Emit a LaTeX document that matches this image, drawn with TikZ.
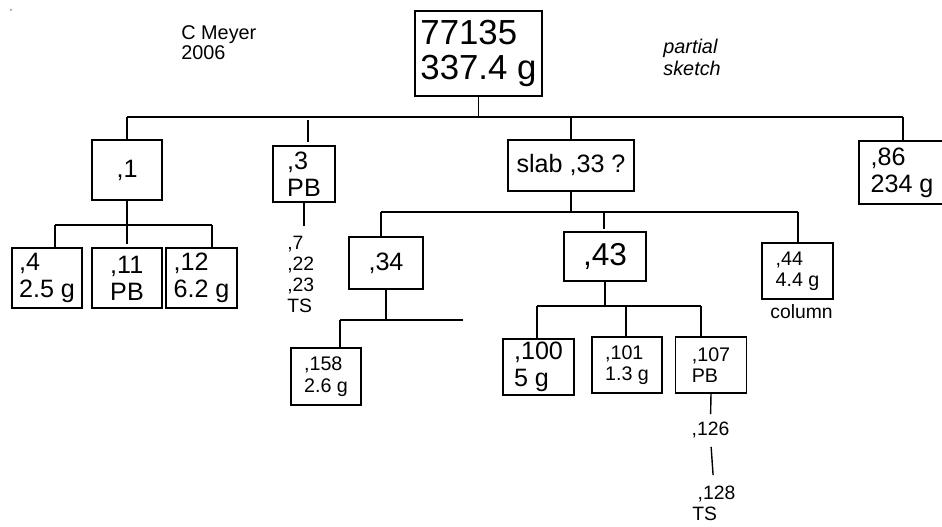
\documentclass[tikz,border=0pt]{standalone}
\usepackage{fontspec}
\setmainfont{Liberation Sans}
\usetikzlibrary{positioning}

\begin{document}
\begin{tikzpicture}[
  item/.style={rectangle, draw, line width=0.8pt, align=left, inner sep=0pt,
               font=\fontsize{14.3}{15.5}\selectfont},
  smallitem/.style={item, font=\fontsize{11.2}{12.2}\selectfont},
  note/.style={align=left, inner sep=0pt, font=\fontsize{11}{11.9}\selectfont},
  branch/.style={line width=0.8pt}
]
\useasboundingbox (0,0) rectangle (18.84,-10.54);

\node[circle, fill=gray, inner sep=0pt, minimum size=0.04cm] (speck) at (0.22,-0.2) {};
\node[note, anchor=north west, font=\fontsize{11.3}{11.6}\selectfont] (meyer) at (3.62,-0.5) {C Meyer\\2006};
\node[note, anchor=north west, font=\fontsize{11.3}{12.5}\selectfont\itshape] (partial) at (13.26,-0.77) {partial\\sketch};

\node[item, font=\fontsize{19.8}{20.4}\selectfont, minimum width=2.54cm, minimum height=1.7cm] (root) at (9.57,-1.07) {77135\\337.4 g};

\node[item, minimum width=1.4cm, minimum height=1.2cm]   (n1)   at (2.54,-3.4)  {,1};
\node[item, minimum width=1.24cm, minimum height=1.12cm] (n3)   at (6.08,-3.48) {,3\\PB};
\node[item, minimum width=2.52cm, minimum height=1.02cm] (slab) at (11.42,-3.31) {slab ,33 ?};
\node[item, minimum width=1.72cm, minimum height=1.26cm] (n86)  at (18.04,-3.45) {,86\\234 g};

\node[item, minimum width=1.4cm, minimum height=1.2cm]  (n4)  at (0.94,-5.56) {,4\\2.5 g};
\node[item, minimum width=1.4cm, minimum height=1.2cm]  (n11) at (2.54,-5.56) {,11\\PB};
\node[item, minimum width=1.42cm, minimum height=1.2cm] (n12) at (4.03,-5.56) {,12\\6.2 g};
\node[note, anchor=north west] (n7) at (5.74,-4.72) {,7\\,22\\,23\\TS};

\node[item, minimum width=1.48cm, minimum height=1.04cm] (n34) at (7.72,-5.26) {,34};
\node[item, font=\fontsize{18}{19}\selectfont, minimum width=1.64cm, minimum height=0.98cm] (n43) at (12.1,-5.13) {,43};
\node[smallitem, minimum width=1.42cm, minimum height=1.12cm] (n44) at (15.95,-5.42) {,44\\4.4 g};
\node[note, anchor=base] (column) at (16.03,-6.36) {column};

\node[smallitem, minimum width=1.4cm, minimum height=1.14cm] (n158) at (6.52,-7.53) {,158\\2.6 g};
\node[item, minimum width=1.42cm, minimum height=1.12cm]      (n100) at (10.77,-7.34) {,100\\5 g};
\node[smallitem, minimum width=1.4cm, minimum height=1.12cm]  (n101) at (12.54,-7.3) {,101\\1.3 g};
\node[smallitem, minimum width=1.42cm, minimum height=1.12cm] (n107) at (14.22,-7.3) {,107\\PB};

\node[note] (n126) at (14.21,-8.59) {,126};
\node[note, anchor=north west] (n128) at (13.84,-9.72) {\ ,128\\TS};

\coordinate (rootbarL) at (2.54,-2.34);
\coordinate (rootbarR) at (18.06,-2.34);
\coordinate (j3) at (6.16,-2.4);
\draw[branch] (root.south) -- (root.south |- rootbarL);
\draw[branch] (rootbarL) -- (rootbarR);
\draw[branch] (rootbarL) -- (rootbarL |- n1.north);
\draw[branch, shorten >=0.06cm] (j3) -- (j3 |- n3.north);
\draw[branch] (slab.north |- rootbarL) -- (slab.north);
\draw[branch] (rootbarR) -- (rootbarR |- n86.north);

\coordinate (barAL) at (1.1,-4.5);
\coordinate (barAR) at (4.24,-4.5);
\draw[branch, shorten >=0.06cm] (n1.south) -- (n11.north);
\draw[branch] (barAL) -- (barAR);
\draw[branch] (barAL) -- (barAL |- n4.north);
\draw[branch] (barAR) -- (barAR |- n12.north);
\draw[branch, shorten >=0.2cm] (n3.south) -- (n3.south |- n7.north);

\coordinate (barBL) at (7.62,-4.24);
\coordinate (barBR) at (15.96,-4.24);
\coordinate (j43) at (12.08,-4.24);
\draw[branch] (slab.south) -- (slab.south |- barBL);
\draw[branch] (barBL) -- (barBR);
\draw[branch] (barBL) -- (barBL |- n34.north);
\draw[branch, shorten >=0.04cm] (j43) -- (j43 |- n43.north);
\draw[branch] (barBR) -- (barBR |- n44.north);

\coordinate (barCL) at (6.8,-6.4);
\coordinate (barCR) at (9.26,-6.4);
\draw[branch] (n34.south) -- (n34.south |- barCL);
\draw[branch] (barCL) -- (barCR);
\draw[branch] (barCL) -- (barCL |- n158.north);

\coordinate (barDL) at (10.74,-6.12);
\coordinate (barDR) at (14.02,-6.12);
\coordinate (j101) at (12.52,-6.12);
\draw[branch] (n43.south) -- (n43.south |- barDL);
\draw[branch] (barDL) -- (barDR);
\draw[branch] (barDL) -- (barDL |- n100.north);
\draw[branch] (j101) -- (j101 |- n101.north);
\draw[branch] (barDR) -- (barDR |- n107.north);

\draw[branch, shorten >=0.14cm] (n107.south) -- (n126.north);
\draw[branch, shorten <=0.18cm, shorten >=0.22cm] (n126.south) -- (n128.north);
\end{tikzpicture}
\end{document}
